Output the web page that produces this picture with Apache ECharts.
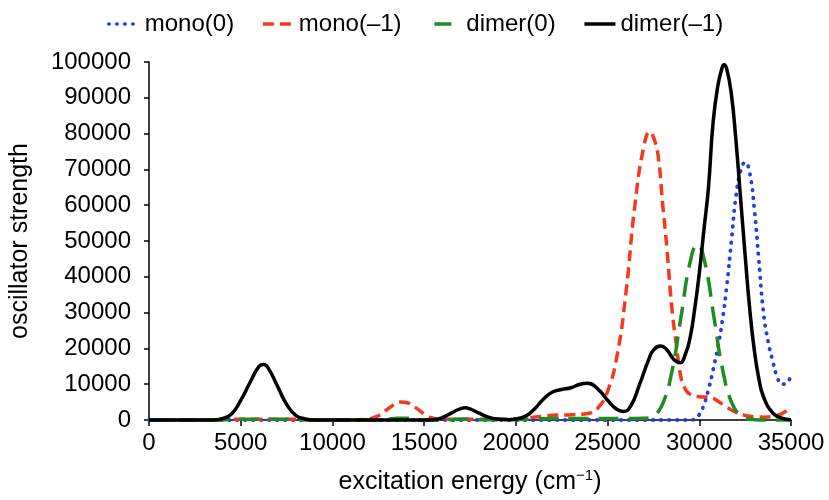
<!DOCTYPE html>
<html>
<head>
<meta charset="utf-8">
<script src="https://cdn.jsdelivr.net/npm/echarts@6/dist/echarts.min.js"></script>
<style>html,body{margin:0;padding:0;background:#fff;}#c{width:829px;height:500px;}</style>
</head>
<body>
<div id="c"></div>
<script>
// ---- data ----
const seriesNames = ['mono(0)', 'mono(–1)', 'dimer(0)', 'dimer(–1)'];
const xTicks = [0, 5000, 10000, 15000, 20000, 25000, 30000, 35000];
const yTicks = [0, 10000, 20000, 30000, 40000, 50000, 60000, 70000, 80000, 90000, 100000];

const monoNeutralX = [0, 29500, 29750, 30000, 30250, 30500, 30750, 31000, 31250, 31500, 31750, 32000, 32250, 32500, 32750, 33000, 33250, 33500, 33750, 34000, 34250, 34500, 34750, 35000];
const monoNeutralY = [0, 0, 200, 1500, 4200, 8500, 14000, 20000, 27500, 37500, 50000, 62500, 69500, 72000, 69000, 59000, 44500, 30000, 22000, 16500, 12000, 10000, 10200, 12800];

const monoAnionX = [0, 3500, 4000, 8500, 9000, 11000, 11500, 12000, 12500, 13000, 13500, 13750, 14000, 14500, 15000, 15500, 16000, 16500, 20000, 20500, 21000, 21500, 22000, 23000, 24000, 24500, 25000, 25500, 26000, 26500, 27000, 27300, 27500, 27750, 28000, 28250, 28500, 28750, 29000, 29250, 29500, 30000, 30500, 30800, 31000, 31500, 32000, 32500, 33000, 33500, 34000, 34500, 35000];
const monoAnionY = [0, 0, 200, 200, 0, 0, 100, 300, 1200, 3000, 4700, 5000, 4900, 3600, 1700, 500, 200, 200, 300, 500, 800, 1100, 1300, 1500, 1900, 3500, 8000, 17500, 35500, 60500, 77000, 80500, 79000, 74000, 60500, 47000, 31500, 21000, 12000, 8500, 7200, 6500, 6400, 6000, 5300, 3600, 2100, 1300, 900, 800, 1000, 1800, 3500];

const dimerNeutralX = [0, 4000, 4500, 8000, 8500, 12500, 13000, 13500, 14000, 14500, 15000, 16500, 17000, 17500, 18000, 20000, 21000, 22000, 23000, 24000, 25000, 26000, 27000, 27500, 28000, 28500, 29000, 29500, 29900, 30300, 30800, 31300, 31800, 32300, 32800, 33300, 35000];
const dimerNeutralY = [0, 0, 200, 200, 0, 0, 200, 500, 500, 200, 0, 100, 300, 300, 100, 100, 300, 400, 400, 400, 400, 400, 500, 1200, 4500, 13400, 28700, 44100, 49000, 44100, 28700, 13400, 4500, 1100, 200, 0, 0];

const dimerAnionX = [0, 3500, 4000, 4500, 5000, 5500, 6000, 6250, 6500, 7000, 7500, 8000, 8500, 9000, 15000, 15500, 16000, 16500, 17000, 17250, 17500, 18000, 18500, 19000, 19500, 20000, 20500, 21000, 21500, 22000, 22500, 23000, 23500, 23900, 24500, 25000, 25500, 25850, 26250, 26750, 27250, 27500, 27900, 28250, 28600, 28950, 29250, 29500, 29750, 30000, 30250, 30500, 30750, 31000, 31250, 31350, 31500, 31750, 32000, 32250, 32500, 32750, 33000, 33250, 33500, 34000, 34500, 35000];
const dimerAnionY = [0, 0, 400, 1700, 5500, 10400, 15000, 15500, 14500, 9500, 4400, 1300, 300, 0, 0, 100, 700, 2000, 3200, 3400, 3100, 1900, 800, 250, 100, 300, 1000, 3000, 5800, 7800, 8500, 9000, 10000, 10300, 8500, 5500, 3000, 2400, 3800, 10000, 17000, 19500, 20700, 19500, 17000, 16000, 18500, 23000, 31000, 41000, 53000, 65000, 83000, 93000, 98500, 99200, 98000, 91000, 78000, 62000, 46000, 31000, 19500, 11500, 6500, 2000, 500, 100];

function pairs(xs, ys) { return xs.map((x, i) => [x, ys[i]]); }

const FONT = 'Liberation Sans, Arial, Helvetica, sans-serif';
const FS = 24;
const chart = echarts.init(document.getElementById('c'), null, {renderer: 'canvas'});

const commonSeries = {type: 'line', symbol: 'none', showSymbol: false, smooth: 0.5, clip: false, animation: false};

chart.setOption({
  animation: false,
  backgroundColor: '#fff',
  textStyle: {fontFamily: FONT, color: '#000'},
  legend: {
    top: 7, left: 102,
    itemWidth: 31, itemHeight: 14, itemGap: 27,
    textStyle: {fontSize: FS, color: '#000', fontFamily: FONT},
    itemStyle: {opacity: 0, borderWidth: 0},
    data: [
      {name: seriesNames[0]},
      {name: seriesNames[1]},
      {name: seriesNames[2], lineStyle: {type: [17, 60], dashOffset: -4}},
      {name: seriesNames[3]}
    ],
    lineStyle: {width: 3.5}
  },
  grid: {left: 144, right: 38, top: 62, bottom: 80, containLabel: false},
  xAxis: {
    type: 'value', min: xTicks[0], max: xTicks[xTicks.length - 1], interval: xTicks[1] - xTicks[0],
    name: '{a|excitation energy (cm}{s|−1}{a|)}',
    nameLocation: 'middle', nameGap: 48,
    nameTextStyle: {rich: {a: {fontSize: 25, lineHeight: 28, fontFamily: FONT, color: '#000'}, s: {fontSize: 15, lineHeight: 15, verticalAlign: 'top', fontFamily: FONT, color: '#000'}}},
    axisLine: {lineStyle: {color: '#000', width: 1.5}},
    axisTick: {show: true, inside: false, length: 6, lineStyle: {color: '#000', width: 1.5}},
    axisLabel: {fontSize: FS, color: '#000', margin: 11, fontFamily: FONT, formatter: v => String(v)},
    splitLine: {show: false}
  },
  yAxis: {
    type: 'value', min: yTicks[0], max: yTicks[yTicks.length - 1], interval: yTicks[1] - yTicks[0],
    name: 'oscillator strength', nameLocation: 'middle', nameGap: 116, nameRotate: 90,
    nameTextStyle: {fontSize: 25, color: '#000', fontFamily: FONT},
    axisLine: {show: true, lineStyle: {color: '#000', width: 1.5}},
    axisTick: {show: true, inside: false, length: 5, lineStyle: {color: '#000', width: 1.5}},
    axisLabel: {fontSize: FS, color: '#000', margin: 18, fontFamily: FONT, formatter: v => String(v)},
    splitLine: {show: false}
  },
  series: [
    Object.assign({}, commonSeries, {name: seriesNames[0], data: pairs(monoNeutralX, monoNeutralY), z: 2,
      color: '#1f3fe0', lineStyle: {color: '#1f3fe0', width: 3.8, type: [0.5, 7.5], cap: 'round'}}),
    Object.assign({}, commonSeries, {name: seriesNames[1], data: pairs(monoAnionX, monoAnionY), z: 3,
      color: '#f5391c', lineStyle: {color: '#f5391c', width: 3.5, type: [11, 6], cap: 'butt'}}),
    Object.assign({}, commonSeries, {name: seriesNames[2], data: pairs(dimerNeutralX, dimerNeutralY), z: 4,
      color: '#1f8c1f', lineStyle: {color: '#1f8c1f', width: 3.5, type: [20, 10], cap: 'butt'}}),
    Object.assign({}, commonSeries, {name: seriesNames[3], data: pairs(dimerAnionX, dimerAnionY), z: 5,
      color: '#000000', lineStyle: {color: '#000000', width: 3.5, type: 'solid'}})
  ]
});
</script>
</body>
</html>
